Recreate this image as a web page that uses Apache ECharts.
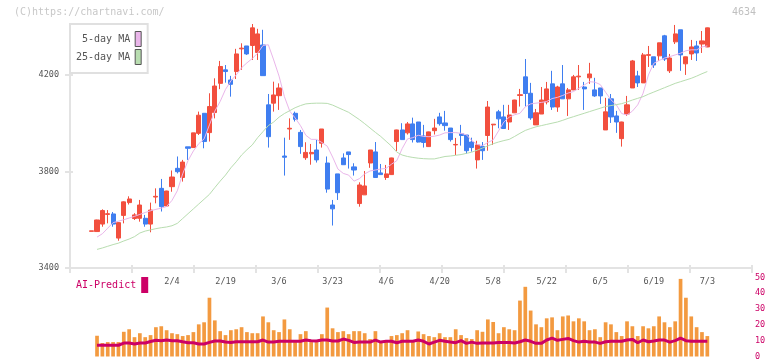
<!DOCTYPE html>
<html>
<head>
<meta charset="utf-8">
<script src="https://cdn.jsdelivr.net/npm/echarts@6/dist/echarts.min.js"></script>
<style>
  html, body { margin: 0; padding: 0; background: #fff; }
  #chart { width: 772px; height: 361px; }
</style>
</head>
<body>
<div id="chart"></div>
<script>
"use strict";

// open, close, low, high
var candles = [
	[3552, 3554, 3552, 3554], [3551, 3599, 3550, 3600], [3582, 3638, 3571, 3643], [3622, 3625, 3585, 3640],
	[3624, 3582, 3571, 3632], [3524, 3588, 3513, 3590], [3618, 3674, 3585, 3676], [3671, 3686, 3663, 3697],
	[3605, 3620, 3599, 3627], [3606, 3661, 3592, 3682], [3606, 3582, 3571, 3620], [3582, 3640, 3548, 3671],
	[3694, 3697, 3668, 3730], [3730, 3654, 3634, 3769], [3657, 3719, 3655, 3720], [3737, 3777, 3716, 3804],
	[3813, 3799, 3792, 3862], [3775, 3839, 3758, 3848], [3902, 3896, 3848, 3902], [3899, 3960, 3899, 3960],
	[3958, 4033, 3951, 4048], [4041, 3924, 3896, 4041], [3961, 4069, 3924, 4124], [4044, 4154, 4020, 4186],
	[4165, 4235, 4141, 4258], [4221, 4214, 4168, 4241], [4179, 4161, 4110, 4196], [4214, 4287, 4183, 4308],
	[4308, 4311, 4221, 4331], [4320, 4287, 4283, 4320], [4322, 4395, 4262, 4411], [4293, 4370, 4262, 4391],
	[4324, 4197, 4197, 4387], [4076, 3944, 3899, 4121], [4083, 4117, 4048, 4172], [4114, 4146, 4055, 4165],
	[3864, 3859, 3783, 3940], [3976, 3979, 3931, 4020], [4041, 4016, 4007, 4048], [3962, 3903, 3873, 3972],
	[3857, 3879, 3848, 3921], [3873, 3879, 3828, 3914], [3889, 3848, 3837, 3931], [3917, 3976, 3899, 3976],
	[3835, 3727, 3712, 3862], [3661, 3645, 3576, 3682], [3790, 3712, 3682, 3790], [3856, 3828, 3828, 3875],
	[3881, 3870, 3812, 3881], [3819, 3806, 3783, 3834], [3667, 3744, 3654, 3755], [3703, 3740, 3703, 3802],
	[3835, 3889, 3815, 3889], [3881, 3775, 3775, 3922], [3794, 3787, 3787, 3831], [3775, 3790, 3765, 3827],
	[3787, 3856, 3786, 3857], [3924, 3972, 3885, 3973], [3972, 3932, 3932, 4000], [3960, 3997, 3953, 4005],
	[3997, 3932, 3920, 4023], [4005, 3922, 3920, 4005], [3947, 3920, 3899, 3993], [3903, 3964, 3902, 3965],
	[3969, 3980, 3953, 4018], [4026, 3998, 3990, 4043], [4001, 3990, 3969, 4051], [3980, 3932, 3924, 3980],
	[3910, 3912, 3868, 3939], [3956, 3949, 3907, 3993], [3951, 3886, 3874, 3951], [3922, 3899, 3882, 3940],
	[3848, 3910, 3812, 3927], [3903, 3886, 3848, 3922], [3949, 4067, 3886, 4092], [3993, 3996, 3910, 3996],
	[4047, 4018, 3979, 4055], [4026, 3978, 3978, 4076], [4005, 4034, 3972, 4076], [4043, 4096, 4042, 4097],
	[4115, 4118, 4069, 4142], [4192, 4123, 4069, 4266], [4124, 4022, 4014, 4167], [3993, 4043, 3993, 4059],
	[4038, 4096, 4038, 4150], [4088, 4142, 4078, 4171], [4163, 4067, 4055, 4217], [4067, 4150, 4047, 4155],
	[4163, 4101, 4101, 4241], [4101, 4138, 4030, 4146], [4138, 4192, 4137, 4200], [4192, 4195, 4138, 4241],
	[4150, 4142, 4055, 4171], [4188, 4204, 4163, 4250], [4138, 4113, 4109, 4188], [4146, 4113, 4080, 4146],
	[3972, 4047, 3972, 4105], [4101, 4026, 4001, 4121], [4030, 4005, 3960, 4051], [3936, 4005, 3903, 4006],
	[4038, 4076, 4030, 4113], [4146, 4258, 4146, 4262], [4196, 4167, 4150, 4217], [4167, 4283, 4167, 4291],
	[4281, 4284, 4233, 4320], [4275, 4241, 4229, 4275], [4279, 4333, 4258, 4333], [4362, 4266, 4258, 4366],
	[4217, 4270, 4208, 4287], [4337, 4370, 4328, 4407], [4387, 4283, 4217, 4387], [4246, 4275, 4200, 4276],
	[4287, 4316, 4262, 4345], [4320, 4291, 4258, 4341], [4328, 4341, 4291, 4382], [4316, 4395, 4315, 4396]
];

var ma5 = ['-',
	3528, 3542, 3565, 3588, 3594, 3600, 3607, 3614, 3622, 3630,
	3637, 3643, 3648, 3655, 3680, 3720, 3790, 3845, 3885, 3915,
	3935, 3993, 4050, 4090, 4140, 4175, 4200, 4230, 4250, 4268,
	4290, 4322, 4325, 4262, 4195, 4110, 4050, 4022, 3990, 3950,
	3933, 3933, 3920, 3905, 3860, 3810, 3792, 3785, 3760, 3770,
	3790, 3802, 3806, 3810, 3813, 3830, 3845, 3895, 3935, 3940,
	3950, 3945, 3944, 3946, 3951, 3960, 3961, 3961, 3958, 3952,
	3928, 3912, 3907, 3920, 3931, 3968, 4005, 4025, 4035, 4041,
	4068, 4080, 4083, 4086, 4090, 4102, 4107, 4115, 4125, 4131,
	4145, 4158, 4172, 4170, 4160, 4128, 4097, 4076, 4040, 4034,
	4050, 4076, 4124, 4200, 4248, 4260, 4270, 4276, 4283, 4290,
	4300, 4304, 4304, 4316, 4320
];

var ma25 = ['-',
	3477, 3483, 3490, 3497, 3503, 3512, 3520, 3530, 3545, 3553,
	3558, 3563, 3567, 3570, 3575, 3585, 3605, 3625, 3645, 3665,
	3685, 3705, 3733, 3760, 3785, 3815, 3840, 3868, 3890, 3910,
	3940, 3965, 3990, 4005, 4025, 4040, 4052, 4064, 4073, 4080,
	4082, 4083, 4083, 4082, 4075, 4065, 4055, 4045, 4030, 4015,
	3998, 3980, 3962, 3945, 3925, 3905, 3880, 3868, 3862, 3858,
	3855, 3853, 3852, 3852, 3857, 3862, 3864, 3867, 3870, 3875,
	3880, 3888, 3897, 3906, 3915, 3922, 3928, 3933, 3945, 3958,
	3970, 3978, 3985, 3990, 3995, 4000, 4005, 4012, 4020, 4027,
	4034, 4041, 4048, 4055, 4062, 4069, 4073, 4077, 4081, 4088,
	4096, 4103, 4110, 4120, 4129, 4138, 4147, 4156, 4165, 4172,
	4179, 4186, 4195, 4205, 4214
];

// volume bars start from the second candle
var volume = [
	13.1, 8.5, 9.1, 9.1, 9.1, 15.6, 17.2, 12.2, 14.7, 12.2,
	13.5, 18.5, 19.1, 16.6, 14.7, 14.1, 12.9, 13.5, 15.4, 20.3,
	21.6, 37.1, 22.8, 16.0, 13.5, 16.6, 17.2, 18.5, 15.4, 14.7,
	14.7, 25.3, 21.6, 16.6, 15.4, 23.4, 17.2, 9.1, 14.1, 16.0,
	9.1, 9.1, 14.1, 30.9, 17.8, 15.4, 16.0, 14.1, 16.0, 16.0,
	14.7, 11.0, 16.0, 9.8, 9.1, 12.9, 13.5, 14.7, 16.6, 9.1,
	15.8, 14.1, 12.9, 12.2, 14.7, 12.2, 12.2, 17.2, 13.5, 11.6,
	11.0, 16.6, 15.6, 23.4, 21.8, 14.7, 18.5, 17.2, 16.6, 35.3,
	44.0, 29.0, 20.3, 18.5, 24.1, 24.7, 16.6, 25.3, 25.9, 22.2,
	24.1, 22.2, 16.6, 17.2, 12.2, 21.6, 20.3, 15.4, 12.9, 22.2,
	19.1, 12.9, 19.1, 17.8, 19.1, 25.3, 21.6, 18.5, 22.2, 49.0,
	37.1, 25.3, 18.5, 15.4, 12.9
];

var aiPredict = [
	7.1, 7.1, 7.1, 7.1, 7.1, 8.5, 8.5, 7.9, 8.5, 8.5,
	9.5, 10.2, 10.0, 10.4, 10.0, 10.0, 9.3, 8.7, 8.7, 7.9,
	7.9, 8.9, 9.8, 9.8, 9.1, 8.9, 9.3, 9.3, 9.3, 9.3,
	9.3, 10.4, 9.1, 9.1, 9.6, 9.6, 9.6, 9.6, 9.6, 10.4,
	10.0, 9.8, 10.4, 10.4, 9.8, 9.8, 11.0, 10.2, 8.9, 9.1,
	9.1, 9.1, 10.4, 9.1, 9.6, 9.6, 8.7, 9.6, 9.6, 9.6,
	10.4, 9.6, 7.9, 9.1, 10.2, 9.6, 9.1, 8.7, 10.0, 8.3,
	9.1, 8.3, 8.5, 8.5, 8.5, 8.9, 8.9, 8.9, 8.5, 9.3,
	10.4, 9.6, 8.3, 8.3, 10.4, 11.6, 10.2, 10.8, 11.4, 10.0,
	9.1, 9.6, 9.1, 9.1, 8.3, 9.3, 9.6, 9.6, 9.6, 10.4,
	10.8, 8.7, 10.4, 9.3, 9.8, 10.4, 10.4, 9.1, 10.0, 11.6,
	10.0, 9.6, 9.6, 9.6, 9.6
];

var tickIndex = [15, 25, 35, 45, 55, 65, 75, 85, 95, 105, 115];
var tickText = ['2/4', '2/19', '3/6', '3/23', '4/6', '4/20', '5/8', '5/22', '6/5', '6/19', '7/3'];
var priceTicks = [3400, 3800, 4200];

var MONO = 'DejaVu Sans Mono';
var AXIS_GRAY = '#e3e3e3';
var TEXT_GRAY = '#555';
var MAGENTA = '#cc0066';

var categories = [];
for (var i = 0; i < candles.length; i++) {
	categories.push(String(i));
}

function plain(v) {
	return String(v);
}

var chart = echarts.init(document.getElementById('chart'));

chart.setOption({
	animation: false,
	backgroundColor: '#fff',
	title: [{
		text: '(C)https://chartnavi.com/',
		left: 14,
		top: 7,
		padding: 0,
		textStyle: { color: '#c8c8c8', fontSize: 10, fontWeight: 'normal', fontFamily: MONO }
	}, {
		text: '4634',
		right: 16,
		top: 7,
		padding: 0,
		textStyle: { color: '#c0c0c0', fontSize: 10, fontWeight: 'normal', fontFamily: MONO }
	}],
	legend: [{
		data: ['5-day MA', '25-day MA'],
		orient: 'vertical',
		left: 70,
		top: 24,
		align: 'right',
		icon: 'rect',
		itemWidth: 6,
		itemHeight: 15,
		itemGap: 2,
		padding: [7, 6, 8, 6],
		backgroundColor: '#fff',
		borderColor: '#e0e0e0',
		borderWidth: 2,
		selectedMode: false,
		itemStyle: { borderColor: '#555', borderWidth: 1 },
		formatter: function(name) {
			while (name.length < 9) name = ' ' + name;
			return name;
		},
		textStyle: { color: TEXT_GRAY, fontSize: 10, fontFamily: MONO }
	}, {
		data: ['AI-Predict'],
		left: 76,
		top: 277,
		align: 'right',
		icon: 'rect',
		itemWidth: 7,
		itemHeight: 16,
		padding: 0,
		selectedMode: false,
		textStyle: { color: MAGENTA, fontSize: 10, fontFamily: MONO }
	}],
	grid: [
		{ left: 89, right: 62, top: 24, bottom: 93 },
		{ left: 70, right: 20, top: 24, bottom: 93 },
		{ left: 89, right: 62, top: 277.3, bottom: 3.3 }
	],
	xAxis: [{
		gridIndex: 0,
		type: 'category',
		position: 'bottom',
		data: categories,
		axisLine: { show: false },
		axisTick: { show: false },
		axisLabel: {
			interval: function(index) { return tickIndex.indexOf(index) >= 0; },
			formatter: function(value, index) { return tickText[tickIndex.indexOf(index)]; },
			color: TEXT_GRAY,
			fontSize: 8.5,
			fontFamily: MONO,
			margin: 9
		},
		splitLine: { show: false }
	}, {
		gridIndex: 1,
		type: 'value',
		position: 'bottom',
		min: 0,
		max: 11,
		interval: 1,
		axisLine: { show: true, lineStyle: { color: AXIS_GRAY, width: 2 } },
		axisTick: { show: true, length: 5, lineStyle: { color: AXIS_GRAY, width: 2 } },
		axisLabel: { show: false },
		splitLine: { show: false }
	}, {
		gridIndex: 1,
		type: 'value',
		position: 'bottom',
		min: 0,
		max: 11,
		interval: 1,
		axisLine: { show: false },
		axisTick: { show: true, inside: true, length: 3, lineStyle: { color: AXIS_GRAY, width: 2 } },
		axisLabel: { show: false },
		splitLine: { show: false }
	}, {
		gridIndex: 2,
		type: 'category',
		data: categories,
		show: false
	}],
	yAxis: [{
		gridIndex: 0,
		type: 'value',
		position: 'left',
		min: 3400,
		max: 4411,
		offset: 19,
		axisLine: { show: true, lineStyle: { color: AXIS_GRAY, width: 2 } },
		axisTick: { show: true, length: 5, customValues: priceTicks, lineStyle: { color: AXIS_GRAY, width: 2 } },
		axisLabel: { customValues: priceTicks, formatter: plain, color: TEXT_GRAY, fontSize: 8.5, fontFamily: MONO, margin: 11 },
		splitLine: { show: false }
	}, {
		gridIndex: 0,
		type: 'value',
		position: 'left',
		min: 3400,
		max: 4411,
		offset: 19,
		axisLine: { show: false },
		axisTick: { show: true, inside: true, length: 3, customValues: priceTicks, lineStyle: { color: AXIS_GRAY, width: 2 } },
		axisLabel: { show: false },
		splitLine: { show: false }
	}, {
		gridIndex: 1,
		type: 'value',
		show: false
	}, {
		gridIndex: 2,
		type: 'value',
		position: 'right',
		min: 0,
		max: 50,
		interval: 10,
		offset: 42,
		axisLine: { show: false },
		axisTick: { show: false },
		axisLabel: { formatter: plain, color: MAGENTA, fontSize: 8.5, fontFamily: MONO, margin: 3 },
		splitLine: { show: false }
	}],
	series: [{
		name: 'price',
		type: 'candlestick',
		xAxisIndex: 0,
		yAxisIndex: 0,
		barWidth: 4.6,
		clip: false,
		itemStyle: {
			color: '#f24f3e',
			color0: '#3f7ef0',
			borderColor: '#f24f3e',
			borderColor0: '#3f7ef0',
			borderWidth: 1
		},
		data: candles,
		z: 3
	}, {
		name: '5-day MA',
		type: 'line',
		xAxisIndex: 0,
		yAxisIndex: 0,
		data: ma5,
		symbol: 'none',
		itemStyle: { color: '#eab6ea' },
		lineStyle: { color: '#eab6ea', width: 1 },
		z: 4
	}, {
		name: '25-day MA',
		type: 'line',
		xAxisIndex: 0,
		yAxisIndex: 0,
		data: ma25,
		symbol: 'none',
		itemStyle: { color: '#b8ddb0' },
		lineStyle: { color: '#b8ddb0', width: 1 },
		z: 4
	}, {
		name: 'volume',
		type: 'bar',
		xAxisIndex: 3,
		yAxisIndex: 3,
		data: ['-'].concat(volume),
		barWidth: 3.7,
		itemStyle: { color: '#f39a40' },
		z: 2
	}, {
		name: 'AI-Predict',
		type: 'line',
		xAxisIndex: 3,
		yAxisIndex: 3,
		data: ['-'].concat(aiPredict),
		symbol: 'none',
		itemStyle: { color: MAGENTA },
		lineStyle: { color: MAGENTA, width: 3 },
		z: 4
	}]
});
</script>
</body>
</html>
